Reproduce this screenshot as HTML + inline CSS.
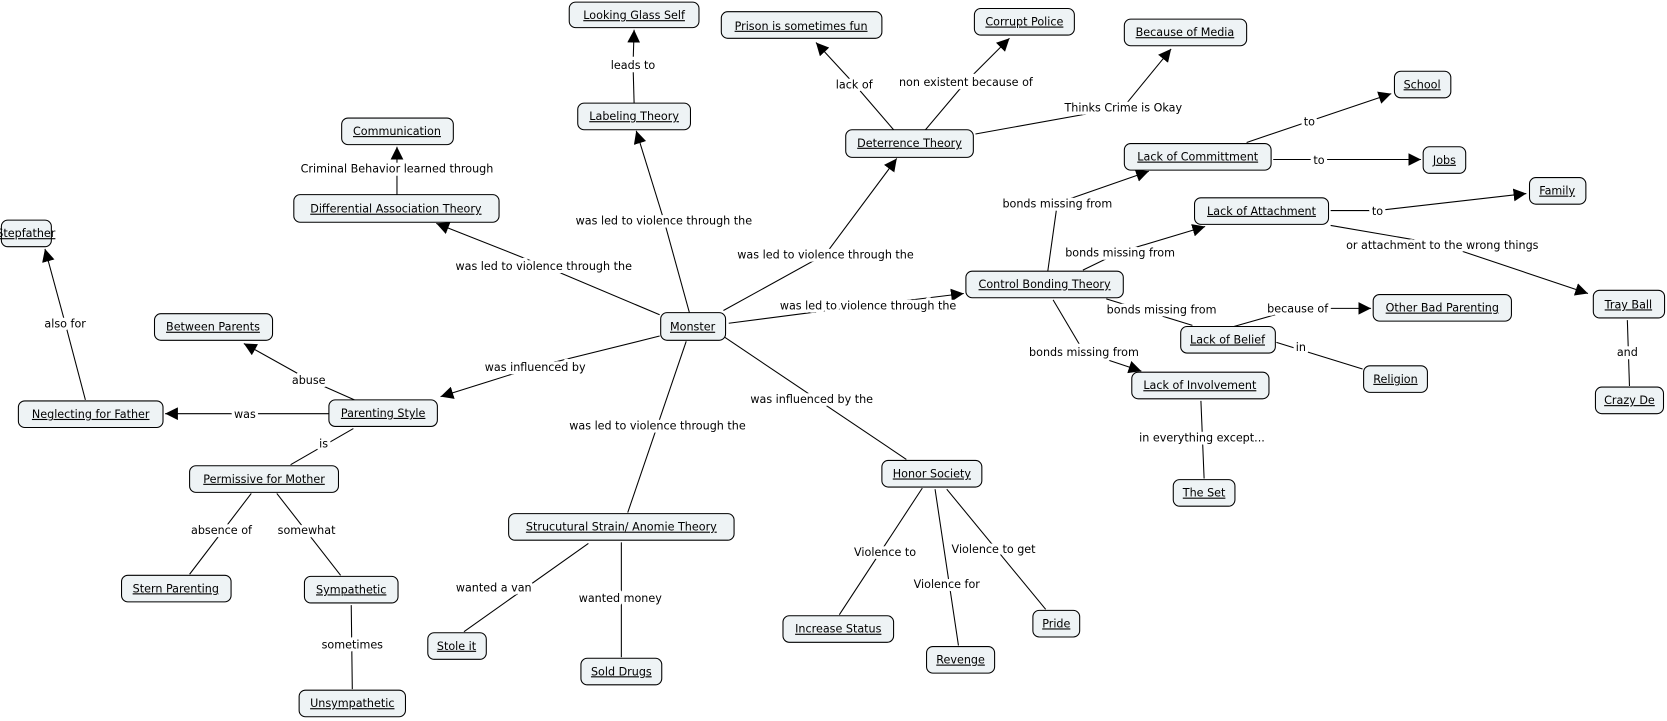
<!DOCTYPE html>
<html><head><meta charset="utf-8"><style>
html,body{margin:0;padding:0;background:#fff;}
svg{display:block;}
text{font-family:"DejaVu Sans","Liberation Sans",sans-serif;font-size:10.5px;fill:#000;}
.n rect{fill:#eef3f5;stroke:#000;stroke-width:1;}
.n text{text-decoration:underline;text-anchor:middle;}
.l{text-anchor:middle;paint-order:stroke;stroke:#fff;stroke-width:6px;stroke-linejoin:round;}
line{stroke:#000;stroke-width:1;}
</style></head><body>
<svg width="1667" height="721" viewBox="0 0 1567 678" xmlns="http://www.w3.org/2000/svg">
<defs><marker id="a" viewBox="0 0 10 10" refX="10" refY="5" markerWidth="12" markerHeight="12" markerUnits="userSpaceOnUse" orient="auto"><path d="M0,0L10,5L0,10z" fill="#000"/></marker></defs>
<g id="edges">
<line x1="648" y1="294" x2="624" y2="207"/><line x1="624" y1="207" x2="598" y2="123" marker-end="url(#a)"/>
<line x1="596" y1="97" x2="595" y2="61"/><line x1="595" y1="61" x2="596" y2="28" marker-end="url(#a)"/>
<line x1="620" y1="296" x2="511" y2="250"/><line x1="511" y1="250" x2="410" y2="210" marker-end="url(#a)"/>
<line x1="373" y1="183" x2="373" y2="158"/><line x1="373" y1="158" x2="373" y2="138" marker-end="url(#a)"/>
<line x1="680" y1="292" x2="776" y2="239"/><line x1="776" y1="239" x2="843" y2="149" marker-end="url(#a)"/>
<line x1="840" y1="122" x2="803" y2="79"/><line x1="803" y1="79" x2="767" y2="40" marker-end="url(#a)"/>
<line x1="870" y1="122" x2="908" y2="77"/><line x1="908" y1="77" x2="949" y2="36" marker-end="url(#a)"/>
<line x1="917" y1="126" x2="1056" y2="101"/><line x1="1056" y1="101" x2="1101" y2="46" marker-end="url(#a)"/>
<line x1="685" y1="304" x2="816" y2="287"/><line x1="816" y1="287" x2="906" y2="276" marker-end="url(#a)"/>
<line x1="985" y1="255" x2="994" y2="191"/><line x1="994" y1="191" x2="1080" y2="161" marker-end="url(#a)"/>
<line x1="1172" y1="134" x2="1231" y2="114"/><line x1="1231" y1="114" x2="1308" y2="88" marker-end="url(#a)"/>
<line x1="1197" y1="150" x2="1240" y2="150"/><line x1="1240" y1="150" x2="1336" y2="150" marker-end="url(#a)"/>
<line x1="1018" y1="254" x2="1053" y2="237"/><line x1="1053" y1="237" x2="1133" y2="213" marker-end="url(#a)"/>
<line x1="1251" y1="198" x2="1295" y2="198"/><line x1="1295" y1="198" x2="1435" y2="182" marker-end="url(#a)"/>
<line x1="1251" y1="212" x2="1356" y2="230"/><line x1="1356" y1="230" x2="1493" y2="276" marker-end="url(#a)"/>
<line x1="1530" y1="301" x2="1532" y2="363"/>
<line x1="1040" y1="281" x2="1121" y2="306"/>
<line x1="1160" y1="307" x2="1220" y2="290"/><line x1="1220" y1="290" x2="1289" y2="290" marker-end="url(#a)"/>
<line x1="1200" y1="322" x2="1281" y2="347"/>
<line x1="990" y1="282" x2="1019" y2="331"/><line x1="1019" y1="331" x2="1073" y2="349" marker-end="url(#a)"/>
<line x1="1129" y1="377" x2="1132" y2="450"/>
<line x1="620" y1="316" x2="503" y2="345"/><line x1="503" y1="345" x2="414" y2="373" marker-end="url(#a)"/>
<line x1="678" y1="315" x2="852" y2="432"/>
<line x1="645" y1="321" x2="590" y2="482"/>
<line x1="309" y1="389" x2="230" y2="389"/><line x1="230" y1="389" x2="155" y2="389" marker-end="url(#a)"/>
<line x1="333" y1="376" x2="290" y2="357"/><line x1="290" y1="357" x2="229" y2="323" marker-end="url(#a)"/>
<line x1="80" y1="376" x2="61" y2="304"/><line x1="61" y1="304" x2="42" y2="234" marker-end="url(#a)"/>
<line x1="332" y1="403" x2="273" y2="437"/>
<line x1="236" y1="464" x2="178" y2="540"/>
<line x1="260" y1="464" x2="320" y2="541"/>
<line x1="330" y1="569" x2="331" y2="648"/>
<line x1="553" y1="511" x2="436" y2="594"/>
<line x1="584" y1="510" x2="584" y2="618"/>
<line x1="867" y1="459" x2="789" y2="578"/>
<line x1="879" y1="460" x2="901" y2="607"/>
<line x1="890" y1="460" x2="983" y2="573"/>
</g>
<g id="labels">
<text class="l" x="624" y="211">was led to violence through the</text>
<text class="l" x="595" y="65">leads to</text>
<text class="l" x="511" y="254">was led to violence through the</text>
<text class="l" x="373" y="162">Criminal Behavior learned through</text>
<text class="l" x="776" y="243">was led to violence through the</text>
<text class="l" x="803" y="83">lack of</text>
<text class="l" x="908" y="81">non existent because of</text>
<text class="l" x="1056" y="105">Thinks Crime is Okay</text>
<text class="l" x="816" y="291">was led to violence through the</text>
<text class="l" x="994" y="195">bonds missing from</text>
<text class="l" x="1231" y="118">to</text>
<text class="l" x="1240" y="154">to</text>
<text class="l" x="1053" y="241">bonds missing from</text>
<text class="l" x="1295" y="202">to</text>
<text class="l" x="1356" y="234">or attachment to the wrong things</text>
<text class="l" x="1530" y="335">and</text>
<text class="l" x="1092" y="295">bonds missing from</text>
<text class="l" x="1220" y="294">because of</text>
<text class="l" x="1223" y="330">in</text>
<text class="l" x="1019" y="335">bonds missing from</text>
<text class="l" x="1130" y="415">in everything except...</text>
<text class="l" x="503" y="349">was influenced by</text>
<text class="l" x="763" y="379">was influenced by the</text>
<text class="l" x="618" y="404">was led to violence through the</text>
<text class="l" x="230" y="393">was</text>
<text class="l" x="290" y="361">abuse</text>
<text class="l" x="61" y="308">also for</text>
<text class="l" x="304" y="421">is</text>
<text class="l" x="208" y="502">absence of</text>
<text class="l" x="288" y="502">somewhat</text>
<text class="l" x="331" y="610">sometimes</text>
<text class="l" x="464" y="556">wanted a van</text>
<text class="l" x="583" y="566">wanted money</text>
<text class="l" x="832" y="523">Violence to</text>
<text class="l" x="890" y="553">Violence for</text>
<text class="l" x="934" y="520">Violence to get</text>
</g>
<g class="n">
<rect x="535" y="2" width="122" height="24" rx="6"/><text x="596" y="18">Looking Glass Self</text>
<rect x="678" y="11" width="151" height="25" rx="6"/><text x="753" y="28">Prison is sometimes fun</text>
<rect x="916" y="8" width="94" height="25" rx="6"/><text x="963" y="24">Corrupt Police</text>
<rect x="1057" y="18" width="115" height="25" rx="6"/><text x="1114" y="34">Because of Media</text>
<rect x="543" y="97" width="106" height="25" rx="6"/><text x="596" y="113">Labeling Theory</text>
<rect x="321" y="111" width="105" height="25" rx="6"/><text x="373" y="127">Communication</text>
<rect x="795" y="122" width="120" height="26" rx="6"/><text x="855" y="138">Deterrence Theory</text>
<rect x="1311" y="67" width="53" height="25" rx="6"/><text x="1337" y="83">School</text>
<rect x="1057" y="135" width="138" height="25" rx="6"/><text x="1126" y="151">Lack of Committment</text>
<rect x="1338" y="138" width="40" height="25" rx="6"/><text x="1358" y="154">Jobs</text>
<rect x="1438" y="167" width="53" height="25" rx="6"/><text x="1464" y="183">Family</text>
<rect x="276" y="183" width="193" height="26" rx="6"/><text x="372" y="200">Differential Association Theory</text>
<rect x="1" y="207" width="47" height="25" rx="6"/><text x="24" y="223">Stepfather</text>
<rect x="1123" y="186" width="126" height="25" rx="6"/><text x="1186" y="202">Lack of Attachment</text>
<rect x="908" y="255" width="148" height="25" rx="6"/><text x="982" y="271">Control Bonding Theory</text>
<rect x="1498" y="273" width="67" height="26" rx="6"/><text x="1531" y="290">Tray Ball</text>
<rect x="1291" y="277" width="130" height="25" rx="6"/><text x="1356" y="293">Other Bad Parenting</text>
<rect x="145" y="295" width="111" height="25" rx="6"/><text x="200" y="311">Between Parents</text>
<rect x="621" y="294" width="61" height="26" rx="6"/><text x="651" y="311">Monster</text>
<rect x="1110" y="307" width="89" height="25" rx="6"/><text x="1154" y="323">Lack of Belief</text>
<rect x="1282" y="344" width="60" height="25" rx="6"/><text x="1312" y="360">Religion</text>
<rect x="1064" y="350" width="129" height="25" rx="6"/><text x="1128" y="366">Lack of Involvement</text>
<rect x="17" y="377" width="136" height="25" rx="6"/><text x="85" y="393">Neglecting for Father</text>
<rect x="309" y="376" width="102" height="25" rx="6"/><text x="360" y="392">Parenting Style</text>
<rect x="1500" y="364" width="64" height="25" rx="6"/><text x="1532" y="380">Crazy De</text>
<rect x="178" y="438" width="140" height="25" rx="6"/><text x="248" y="454">Permissive for Mother</text>
<rect x="829" y="433" width="94" height="25" rx="6"/><text x="876" y="449">Honor Society</text>
<rect x="1103" y="451" width="58" height="25" rx="6"/><text x="1132" y="467">The Set</text>
<rect x="478" y="483" width="212" height="25" rx="6"/><text x="584" y="499">Strucutural Strain/ Anomie Theory</text>
<rect x="114" y="541" width="103" height="25" rx="6"/><text x="165" y="557">Stern Parenting</text>
<rect x="286" y="542" width="88" height="25" rx="6"/><text x="330" y="558">Sympathetic</text>
<rect x="736" y="579" width="104" height="25" rx="6"/><text x="788" y="595">Increase Status</text>
<rect x="971" y="574" width="44" height="25" rx="6"/><text x="993" y="590">Pride</text>
<rect x="402" y="595" width="55" height="25" rx="6"/><text x="429" y="611">Stole it</text>
<rect x="546" y="619" width="76" height="25" rx="6"/><text x="584" y="635">Sold Drugs</text>
<rect x="871" y="608" width="64" height="25" rx="6"/><text x="903" y="624">Revenge</text>
<rect x="281" y="649" width="100" height="25" rx="6"/><text x="331" y="665">Unsympathetic</text>
</g>
</svg>
</body></html>
